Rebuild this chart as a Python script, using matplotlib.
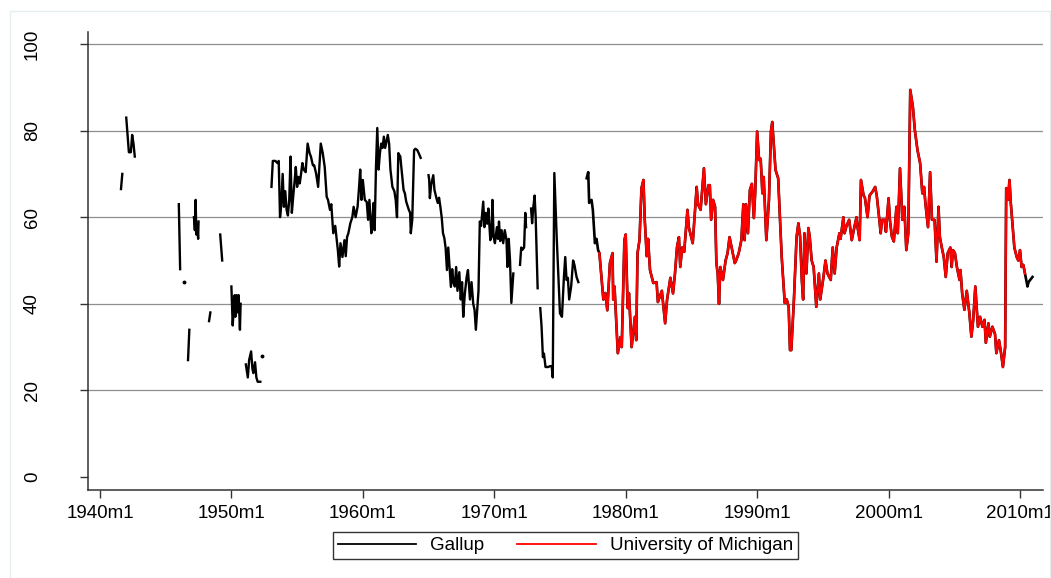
import numpy as np
import matplotlib
matplotlib.use("Agg")
import matplotlib.pyplot as plt
from matplotlib.lines import Line2D
from matplotlib.patches import Rectangle

plt.rcParams['font.family'] = ['Liberation Sans', 'DejaVu Sans']

# gallup, early years (None = gap in the survey)
gallup_t = [1941.6, 1941.7, None,
            1942.0, 1942.1, 1942.2, 1942.35, 1942.45, 1942.55, 1942.65, None,
            1946.0, 1946.1, None,
            1946.7, 1946.8, None,
            1947.15, 1947.22, 1947.28, 1947.33, 1947.4, 1947.47, 1947.5, None,
            1948.3, 1948.4, None,
            1949.15, 1949.3, None,
            1950.0, 1950.1, 1950.2, 1950.25, 1950.3, 1950.4, 1950.5, 1950.55, 1950.65, 1950.7, None,
            1951.1, 1951.15, 1951.25, 1951.35, 1951.5, 1951.6, 1951.67, 1951.8, 1951.9, 1952.0, 1952.2, None,
            1953.05, 1953.15, 1953.35, 1953.5, 1953.6, 1953.7, 1953.8, 1953.9, 1954.0, 1954.1,
            1954.2, 1954.3, 1954.4, 1954.5, 1954.6, 1954.7, 1954.8, 1954.9, 1955.0, 1955.1,
            1955.2, 1955.3, 1955.4, 1955.5, 1955.65, 1955.8, 1955.95, 1956.05, 1956.2, 1956.3,
            1956.45, 1956.6, 1956.8, 1956.95, 1957.1, 1957.25, 1957.35, 1957.5, 1957.6, 1957.75,
            1957.9, 1958.1, 1958.2, 1958.3, 1958.45, 1958.6, 1958.7, 1958.8, 1958.9, 1959.05,
            1959.2, 1959.3, 1959.45, 1959.6, 1959.7, 1959.8, 1959.9, 1960.0, 1960.15, 1960.3,
            1960.4, 1960.5, 1960.65, 1960.75, 1960.82, 1960.9, 1961.0, 1961.1, 1961.2, 1961.3,
            1961.4, 1961.5, 1961.6, 1961.7, 1961.8, 1961.9, 1962.0, 1962.1, 1962.25, 1962.4,
            1962.5, 1962.6, 1962.7, 1962.85, 1963.1, 1963.2, 1963.3, 1963.5, 1963.6, 1963.65,
            1963.76, 1963.9, 1964.0, 1964.14, 1964.25, 1964.4, None,
            1965.0, 1965.05, 1965.1, 1965.2, 1965.36, 1965.45, 1965.6, 1965.7, 1965.8, 1965.9,
            1966.0, 1966.1, 1966.2, 1966.3, 1966.4, 1966.5, 1966.6, 1966.7, 1966.8, 1966.9,
            1967.0, 1967.1, 1967.2, 1967.34, 1967.45, 1967.55, 1967.64, 1967.75, 1967.9, 1968.0,
            1968.15, 1968.27, 1968.4, 1968.5, 1968.6, 1968.8, 1968.9, 1969.0, 1969.16, 1969.25,
            1969.35, 1969.46, 1969.55, 1969.7, 1969.78, 1969.86, 1969.95, 1970.05, 1970.2, 1970.28,
            1970.36, 1970.45, 1970.56, 1970.68, 1970.8, 1970.93, 1971.0, 1971.1, 1971.2, 1971.3,
            1971.45, None,
            1971.96, 1972.05, 1972.15, 1972.27, 1972.36, 1972.42, None,
            1972.8, 1972.88, 1972.96, 1973.07, 1973.15, 1973.3, None,
            1973.5, 1973.6, 1973.7, 1973.78, 1973.9, 1974.1, 1974.24, 1974.37, 1974.45, 1974.57,
            1974.75, 1974.9, 1975.0, 1975.15, 1975.3, 1975.4, 1975.5, 1975.6, 1975.7, 1975.85,
            1976.0, 1976.1, 1976.26, 1976.4]
gallup_v = [66.5, 70, None,
            83, 79, 75, 75, 79, 77, 74, None,
            63, 48, None,
            27, 34, None,
            60, 57, 64, 56, 58, 55, 59, None,
            36, 38, None,
            56, 50, None,
            44, 35, 40, 42, 37, 42, 38, 42, 34, 40, None,
            26, 25, 23, 27, 29, 25, 24, 26.5, 23, 22, 22, None,
            67, 73, 73, 72.5, 73, 60, 63, 70, 62.4, 66,
            61.7, 60.4, 64, 74, 61, 64.7, 68, 71.6, 67, 69.3,
            67.8, 70, 72.5, 71, 70.4, 77, 74.8, 74, 72, 72,
            70, 67, 77, 74.8, 71.6, 64.7, 64, 61.7, 63, 56.3,
            58, 52.4, 48.6, 54, 50.8, 54.7, 51, 55.4, 56.3, 58.6,
            60, 62.4, 60, 62.4, 66.3, 71, 64, 68.6, 64, 63.5,
            59.4, 64, 56.3, 60, 63.3, 57, 71.6, 80.6, 71, 74.8,
            77, 76, 78.6, 76, 77.5, 79, 77, 71, 67, 66,
            64, 60, 74.8, 74, 66.3, 65.5, 63.6, 61.7, 61, 56.3,
            59.4, 75.5, 75.8, 75.5, 74.8, 73.7, None,
            69.7, 68.6, 64.4, 67.5, 69.7, 66.3, 64.4, 63.3, 64.5, 62.4,
            60, 56.3, 55.2, 52.9, 47.8, 53, 48.5, 43.9, 48, 44.8,
            44, 48.5, 43, 47.3, 41, 45, 37, 42, 46.2, 47.8,
            41, 45, 40, 38.6, 34, 43, 59, 58, 63.6, 57.7,
            61, 58.5, 62, 54.7, 55.5, 64, 55.5, 54, 57.7, 55,
            59, 54.5, 57, 54, 57, 54.7, 48.5, 55, 50, 40.2,
            47, None,
            49, 53, 52.5, 53, 61, 57.7, None,
            62, 58.6, 62, 65, 60, 43.6, None,
            39, 34.7, 27.7, 28.5, 25.4, 25.4, 25.6, 25.6, 23, 70.2,
            55.4, 44.8, 37.8, 37, 46.2, 50.8, 45.5, 46, 41, 44,
            50, 49, 46.2, 45]

# two months surveyed alone, with no neighbour to join
gallup_single_t = [1946.4, 1952.3]
gallup_single_v = [45, 28]

# gallup 1977, before the michigan series starts
gallup_1977_t = [1977.03, 1977.15, 1977.22, 1977.4, 1977.5, 1977.66, 1977.78, 1977.9]
gallup_1977_v = [69, 70.4, 63.3, 64, 61.7, 54, 55, 52.4]

# gallup runs a little past the end of michigan
gallup_tail_t = [2010.57, 2010.65, 2010.77, 2010.95]
gallup_tail_v = [44, 45, 45.5, 46.2]

michigan_t = [1978.0, 1978.3, 1978.45, 1978.6, 1978.8, 1979.0, 1979.05, 1979.15, 1979.4, 1979.6,
              1979.7, 1979.9, 1980.0, 1980.15, 1980.25, 1980.45, 1980.7, 1980.8, 1980.9, 1981.05,
              1981.2, 1981.35, 1981.45, 1981.6, 1981.7, 1981.85, 1982.1, 1982.35, 1982.45, 1982.75,
              1983.0, 1983.15, 1983.4, 1983.6, 1983.75, 1983.9, 1984.05, 1984.15, 1984.3, 1984.45,
              1984.6, 1984.7, 1984.8, 1985.1, 1985.4, 1985.5, 1985.7, 1985.95, 1986.1, 1986.3,
              1986.4, 1986.5, 1986.65, 1986.8, 1986.9, 1987.0, 1987.1, 1987.2, 1987.4, 1987.6,
              1987.75, 1987.9, 1988.1, 1988.3, 1988.4, 1988.6, 1988.8, 1988.95, 1989.05, 1989.15,
              1989.3, 1989.45, 1989.6, 1989.75, 1989.85, 1990.0, 1990.15, 1990.27, 1990.4, 1990.5,
              1990.6, 1990.7, 1990.9, 1991.05, 1991.15, 1991.4, 1991.6, 1991.7, 1991.87, 1992.1,
              1992.25, 1992.4, 1992.5, 1992.6, 1992.8, 1993.0, 1993.14, 1993.27, 1993.4, 1993.5,
              1993.6, 1993.75, 1993.9, 1994.0, 1994.15, 1994.3, 1994.5, 1994.7, 1994.8, 1995.04,
              1995.2, 1995.35, 1995.6, 1995.75, 1995.9, 1996.05, 1996.26, 1996.35, 1996.56, 1996.65,
              1996.8, 1997.0, 1997.2, 1997.35, 1997.56, 1997.65, 1997.8, 1997.9, 1998.1, 1998.2,
              1998.4, 1998.55, 1998.8, 1998.98, 1999.1, 1999.3, 1999.4, 1999.5, 1999.7, 1999.8,
              2000.0, 2000.1, 2000.25, 2000.4, 2000.6, 2000.7, 2000.87, 2001.05, 2001.2, 2001.35,
              2001.5, 2001.65, 2001.85, 2002.0, 2002.2, 2002.4, 2002.57, 2002.7, 2002.8, 2003.0,
              2003.16, 2003.3, 2003.5, 2003.65, 2003.8, 2003.9, 2004.05, 2004.2, 2004.35, 2004.5,
              2004.7, 2004.8, 2004.9, 2005.05, 2005.2, 2005.4, 2005.47, 2005.6, 2005.77, 2005.95,
              2006.15, 2006.3, 2006.44, 2006.6, 2006.8, 2006.96, 2007.14, 2007.3, 2007.4, 2007.6,
              2007.7, 2007.9, 2008.1, 2008.2, 2008.4, 2008.56, 2008.7, 2008.87, 2008.95, 2009.08,
              2009.2, 2009.3, 2009.45, 2009.57, 2009.75, 2009.87, 2010.0, 2010.12, 2010.25, 2010.38]
michigan_v = [51.7, 41, 42.5, 38.5, 49.4, 51.7, 41, 44, 28.6, 32.3,
              30, 54.7, 56, 39, 42.4, 30, 37, 31.6, 51.7, 54.7,
              66.7, 68.6, 59.4, 51, 55, 47.8, 44.8, 45, 40.4, 43,
              35.5, 41, 46, 42.4, 47, 53, 55.4, 48.5, 53, 52,
              57.7, 61.7, 57.7, 54, 67, 63, 61.7, 71.3, 63, 67.4,
              67.4, 59.4, 64, 62.4, 49.4, 47, 40, 48.5, 45.5, 50,
              51.7, 55.4, 52.4, 49.4, 50, 51.7, 54.7, 63, 54.7, 63,
              56.3, 66.3, 67.7, 59.8, 65.5, 79.8, 73.2, 73.5, 65.5, 69.3,
              61.7, 54.7, 64, 79.8, 82, 70.9, 69, 62.4, 50.8, 40.2,
              41, 39.3, 29.3, 29.3, 41, 55.4, 58.6, 55.5, 45.5, 41,
              56.3, 47, 57.5, 55.5, 50, 48.5, 39.3, 47, 41, 46,
              50, 47, 45.5, 53, 47, 53, 56.3, 55, 60, 56.3,
              58, 59.4, 54.7, 57, 60, 57.5, 54.7, 68.6, 65, 64.5,
              60, 65, 66, 67, 65, 59.4, 56.3, 59.4, 59.4, 56.6,
              64.4, 59.4, 55.5, 54.4, 62.4, 56.3, 71.3, 59.4, 62.4, 52.4,
              56.3, 89.4, 85.5, 80.1, 75.5, 72.5, 65.5, 67, 63.3, 57.7,
              70.4, 59.4, 59.4, 49.7, 62.4, 55.5, 53, 50.8, 46.2, 51.7,
              53, 48.5, 52.4, 51.7, 48.5, 45.5, 47.8, 42.4, 38.6, 43,
              37.8, 32.4, 36.3, 44, 34.7, 37, 34.7, 36.3, 31, 35.5,
              32.4, 34.7, 33, 28.6, 31.6, 28.6, 25.4, 30, 66.7, 64,
              68.6, 63.3, 57.7, 53, 50.8, 50, 52.4, 48.5, 49, 47]

year_ticks = [1940, 1950, 1960, 1970, 1980, 1990, 2000, 2010]
year_labels = ['1940m1', '1950m1', '1960m1', '1970m1', '1980m1', '1990m1', '2000m1', '2010m1']
y_ticks = [0, 20, 40, 60, 80, 100]

W, H = 1051, 578
fig = plt.figure(figsize=(W / 100, H / 100), dpi=100)
fig.patches.append(Rectangle((10 / W, 0), (W - 11) / W, (H - 11) / H, transform=fig.transFigure,
                             fill=False, edgecolor='#e6eef0', lw=1))
ax = fig.add_axes([88 / W, 88 / H, (1043 - 88) / W, (490 - 32) / H])

for y in [20, 40, 60, 80, 100]:
    ax.axhline(y, color='#8f8f8f', lw=0.9, zorder=0)

gt = np.array(gallup_t, dtype=float)
gv = np.array(gallup_v, dtype=float)
ax.plot(gt, gv, color='black', lw=1.7)
ax.plot(gallup_single_t, gallup_single_v, 'o', color='black', ms=1.8)
late_t = gallup_1977_t + michigan_t + gallup_tail_t
late_v = gallup_1977_v + michigan_v + gallup_tail_v
ax.plot(late_t, late_v, color='black', lw=1.9)
ax.plot(michigan_t, michigan_v, color='#ff0000', lw=1.7)

ax.set_xlim(1939.09, 2011.75)
ax.set_ylim(-3.0, 102.77)
ax.set_xticks(year_ticks)
ax.set_xticklabels(year_labels)
ax.set_yticks(y_ticks)
ax.set_yticklabels([str(t) for t in y_ticks], rotation=90, va='center')
ax.tick_params(axis='x', length=6, width=1, color='#333333', pad=5, labelsize=13.5)
ax.tick_params(axis='y', length=6, width=1, color='#333333', pad=28, labelsize=13.5)
for s in ['top', 'right']:
    ax.spines[s].set_visible(False)
for s in ['left', 'bottom']:
    ax.spines[s].set_color('#333333')
    ax.spines[s].set_linewidth(1.1)

handles = [Line2D([], [], color='black', lw=1.3), Line2D([], [], color='#ff0000', lw=1.3)]
leg = fig.legend(handles, ['Gallup', 'University of Michigan'], loc='center',
                 bbox_to_anchor=(565.5 / W, 1 - 545.5 / H), ncol=2, fontsize=13.5,
                 frameon=True, fancybox=False, edgecolor='black', handlelength=4.2,
                 handletextpad=0.75, columnspacing=1.75, borderpad=0.25)
leg.get_frame().set_linewidth(1.0)

fig.savefig('out.png', dpi=100, facecolor='white')
